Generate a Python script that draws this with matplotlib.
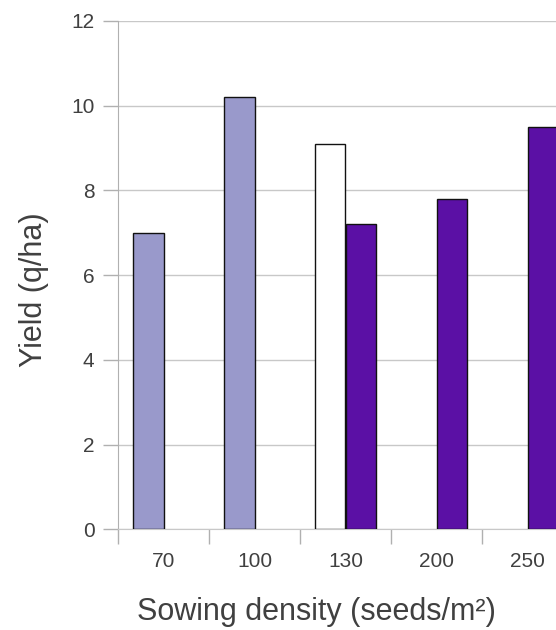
import numpy as np
import matplotlib
matplotlib.use("Agg")
import matplotlib.pyplot as plt

categories = ["70", "100", "130", "200", "250"]
series_a = [7.0, 10.2, 9.1, np.nan, np.nan]
series_a_colors = ["#9999cb", "#9999cb", "#ffffff", "#9999cb", "#9999cb"]
series_b = [np.nan, np.nan, 7.2, 7.8, 9.5]
series_b_color = "#5b10a5"
yticks = [0, 2, 4, 6, 8, 10, 12]

plt.rcParams['font.family'] = ['Liberation Sans', 'DejaVu Sans']
W, H = 556, 630
fig = plt.figure(figsize=(W / 100, H / 100), dpi=100)
x0, x1 = 118, 573
ytop, ybot = 21, 529.3
ax = fig.add_axes([x0 / W, (H - ybot) / H, (x1 - x0) / W, (ybot - ytop) / H])

x = np.arange(len(categories))
bw = 1 / 3
ax.bar(x - bw / 2, series_a, width=bw, color=series_a_colors, edgecolor="#111111", linewidth=1, zorder=3)
ax.bar(x + bw / 2, series_b, width=bw, color=series_b_color, edgecolor="#111111", linewidth=1, zorder=3)

ax.set_xlim(-0.5, len(categories) - 0.5)
ax.set_ylim(0, 12)
ax.set_yticks(yticks)
ax.set_yticklabels([str(v) for v in yticks])
ax.yaxis.grid(True, color="#c8c8c8", linewidth=1, zorder=0)
ax.set_axisbelow(True)

ax.set_xticks(np.arange(len(categories) + 1) - 0.5)
ax.set_xticklabels([])
ax.set_xticks(x, minor=True)
ax.set_xticklabels(categories, minor=True)
ax.tick_params(axis='x', which='minor', length=0, pad=16, labelsize=15, labelcolor="#404040")
ax.tick_params(axis='x', which='major', length=11, color="#b0b0b0", width=1)
ax.tick_params(axis='y', length=11, color="#b0b0b0", width=1, pad=6, labelsize=15, labelcolor="#404040")

for s in ["top", "right"]:
    ax.spines[s].set_visible(False)
ax.spines["left"].set_color("#b0b0b0")
ax.spines["bottom"].set_color("#c8c8c8")

fig.text(34 / W, 1 - 290 / H, "Yield (q/ha)", rotation=90, ha="center", va="center",
         fontsize=22, color="#404040")
fig.text(316 / W, 1 - 612 / H, "Sowing density (seeds/m²)", ha="center", va="center",
         fontsize=22, color="#404040")

fig.savefig("out.png", dpi=100)
